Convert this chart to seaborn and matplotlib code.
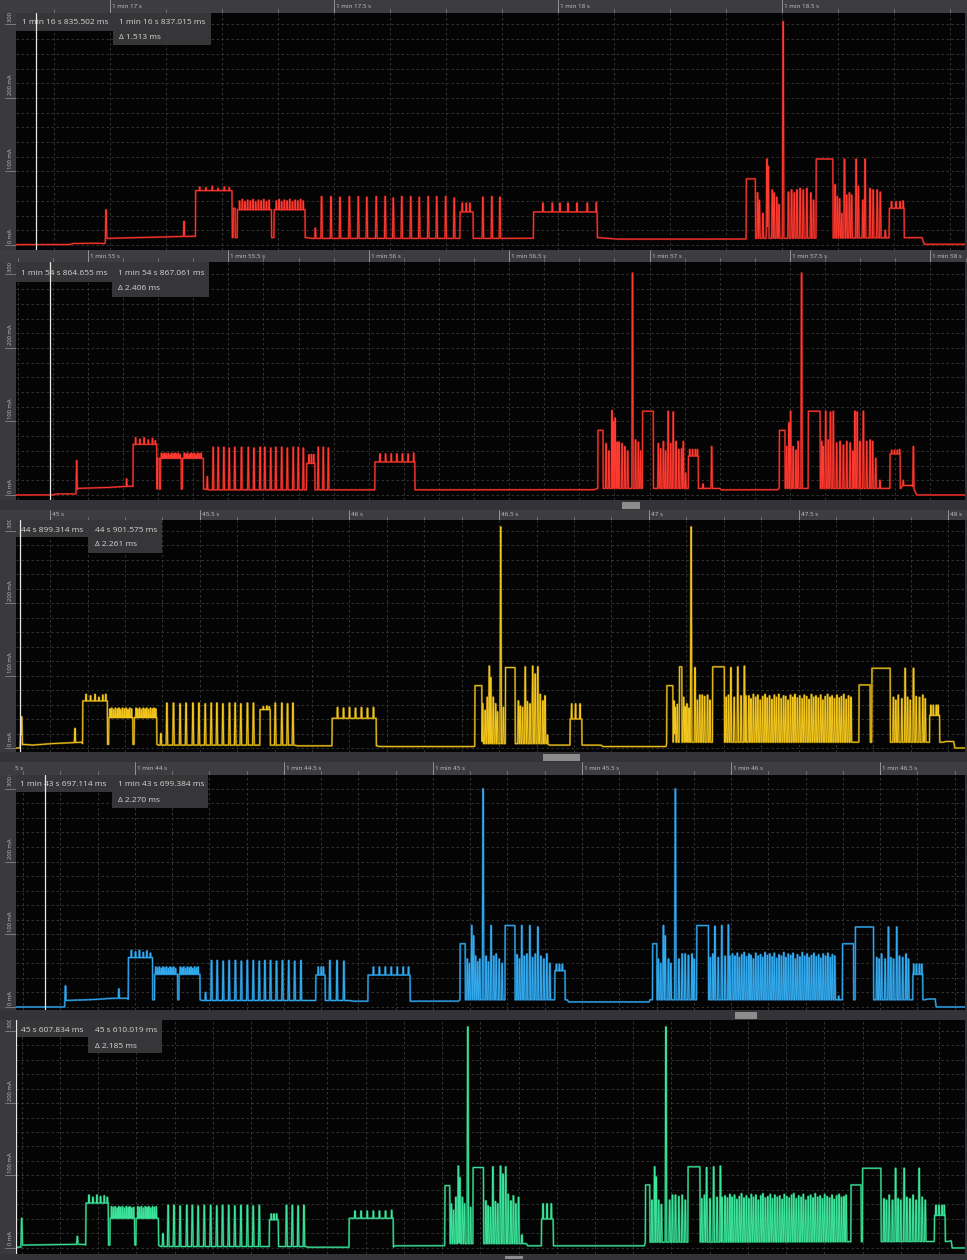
import numpy as np
import matplotlib
matplotlib.use("Agg")
import matplotlib.pyplot as plt
from matplotlib.patches import Rectangle
import seaborn as sns

# ---------------------------------------------------------------------------
# Current traces, one per capture. Time in ms from each capture's reference
# mark, current in mA. Each trace = idle/base level + flat blocks + pulses.
# ---------------------------------------------------------------------------

# capture 1 (red) -- reference mark 1 min 17 s
p1_base = [(-215, 0.5), (-90, 0.5), (-84, 2), (-40, 2.5), (-12, 2), (-8, 9), (60, 10), (120, 11),
           (188, 12), (200, 10), (440, 10), (450, 9), (900, 9), (1090, 10), (1130, 8), (1418, 8),
           (1422, 9), (1812, 10), (1817, 1), (1910, 1)]
p1_blocks = [(191, 272, 74), (275, 279, 50), (284, 360, 48), (366, 435, 48), (781, 810, 45),
             (945, 1087, 45), (1420, 1440, 90), (1576, 1613, 117), (1739, 1772, 50)]
p1_pulses = [(-9, 48), (165, 32),
             (200, 79), (214, 78), (228, 80), (241, 77), (255, 79), (266, 78),
             (289, 60), (295, 62), (301, 59), (307, 61), (313, 60), (319, 62), (325, 59), (331, 61),
             (337, 60), (343, 62), (349, 59), (355, 61), (371, 60), (377, 62), (383, 59), (389, 61),
             (395, 60), (401, 62), (407, 59), (413, 61), (419, 60), (425, 62), (431, 60),
             (458, 23), (472, 66), (493, 66), (513, 65), (534, 66), (554, 66), (573, 65), (594, 66),
             (614, 66), (632, 64), (651, 66), (671, 66), (690, 65), (710, 66), (729, 66), (749, 66),
             (768, 64), (786, 57), (795, 57), (803, 57), (832, 65), (852, 66), (870, 65),
             (966, 57), (987, 57), (1004, 57), (1022, 57), (1042, 57), (1065, 57), (1085, 58),
             (1445, 71), (1449, 61), (1457, 43), (1466, 117), (1469, 107), (1478, 75), (1482, 71),
             (1488, 65), (1493, 55), (1502, 304), (1514, 72), (1521, 75), (1527, 71), (1533, 75),
             (1540, 77), (1547, 75), (1555, 77), (1564, 71), (1570, 61),
             (1618, 82), (1623, 66), (1628, 63), (1633, 43), (1639, 117), (1644, 68), (1650, 71),
             (1655, 68), (1665, 117), (1670, 80), (1680, 61), (1685, 117), (1696, 77), (1703, 75),
             (1712, 75), (1719, 72), (1730, 20),
             (1744, 59), (1754, 59), (1763, 59), (1770, 60)]

# capture 2 (red) -- reference mark 1 min 55 s
p2_base = [(-260, 0), (-120, 0), (-115, 1.4), (-45, 1.5), (-41, 1.5), (-37, 9), (60, 10), (150, 12),
           (160, 12), (166, 8), (420, 8), (430, 7), (1800, 7), (1816, 9), (2250, 9), (2255, 7),
           (2455, 7), (2462, 9), (2895, 9), (2900, 13), (2935, 13), (2951, 0), (3130, 0)]
p2_blocks = [(161, 245, 69), (247, 254, 50), (259, 332, 50), (337, 411, 50), (779, 808, 43),
             (1022, 1164, 45), (1816, 1834, 88), (1975, 2013, 114), (2138, 2173, 53),
             (2462, 2482, 88), (2565, 2607, 114), (2856, 2892, 56)]
p2_pulses = [(-40, 47), (138, 22),
             (170, 78), (185, 76), (200, 78), (215, 75), (230, 77), (240, 74),
             (262, 57), (268, 56), (274, 57), (280, 56), (286, 57), (292, 55), (298, 57), (304, 56),
             (310, 57), (316, 56), (322, 57), (328, 55), (343, 57), (349, 56), (355, 57), (361, 55),
             (367, 57), (373, 56), (379, 57), (385, 55), (391, 57), (397, 56), (403, 57),
             (425, 25), (446, 65), (464, 65), (484, 65), (503, 64), (523, 65), (547, 65), (571, 65),
             (591, 64), (613, 65), (630, 65), (651, 64), (669, 65), (690, 65), (710, 64), (731, 65),
             (749, 65), (767, 64), (787, 55), (796, 55), (804, 55), (820, 65), (838, 65), (856, 64),
             (1040, 56), (1060, 56), (1080, 56), (1100, 56), (1120, 56), (1140, 56), (1160, 57),
             (1845, 70), (1855, 60), (1866, 115), (1871, 100), (1877, 105), (1884, 72), (1891, 72),
             (1902, 70), (1912, 66), (1922, 60), (1939, 302), (1950, 75), (1960, 72), (1968, 60),
             (2031, 70), (2039, 63), (2049, 73), (2057, 60), (2066, 114), (2075, 70), (2084, 113),
             (2094, 73), (2104, 62), (2114, 63), (2120, 73), (2128, 30),
             (2143, 62), (2153, 62), (2163, 62), (2170, 62), (2190, 15), (2221, 66),
             (2488, 66), (2496, 98), (2502, 114), (2511, 66), (2521, 61), (2529, 73), (2541, 302),
             (2613, 73), (2618, 66), (2627, 114), (2636, 75), (2644, 113), (2654, 114), (2666, 71),
             (2678, 73), (2690, 68), (2702, 73), (2714, 71), (2724, 60), (2731, 114), (2739, 113),
             (2749, 73), (2761, 114), (2773, 73), (2785, 75), (2794, 73), (2805, 50), (2820, 20),
             (2862, 61), (2872, 61), (2882, 61), (2890, 62), (2903, 20), (2939, 66)]

# capture 3 (yellow) -- reference mark 45 s
p3_base = [(-120, 0), (-99, 0), (-96, 2), (-92, 5), (-60, 4), (0, 6), (60, 7), (105, 8), (110, 5),
           (356, 5), (362, 4), (815, 4), (825, 3), (1092, 3), (1100, 2), (1417, 2), (1421, 6),
           (1662, 6), (1667, 4), (1840, 4), (1846, 2), (2057, 2), (2061, 8), (2985, 8), (2990, 9),
           (3018, 9), (3022, 0), (3060, 0)]
p3_blocks = [(109, 191, 65), (196, 276, 42), (281, 356, 42), (701, 735, 53), (942, 1089, 41),
             (1419, 1442, 86), (1521, 1553, 111), (1737, 1776, 40), (2060, 2080, 86),
             (2102, 2110, 112), (2213, 2252, 112), (2702, 2739, 87), (2745, 2806, 110),
             (2938, 2971, 45)]
p3_pulses = [(-98, 20), (-95, 43), (83, 27),
             (120, 74), (135, 72), (150, 74), (163, 70), (176, 73), (186, 74),
             (200, 54), (206, 55), (212, 53), (218, 55), (224, 54), (230, 55), (236, 53), (242, 55),
             (248, 54), (254, 55), (260, 53), (266, 55), (272, 54), (287, 55), (293, 54), (299, 55),
             (305, 53), (311, 55), (317, 54), (323, 55), (329, 53), (335, 55), (341, 54), (347, 55),
             (353, 54),
             (370, 20), (390, 62), (412, 62), (434, 61), (454, 62), (477, 62), (497, 62), (518, 61),
             (538, 62), (557, 62), (577, 61), (599, 62), (618, 62), (637, 61), (659, 62), (679, 62),
             (712, 57), (724, 58), (732, 57), (752, 62), (774, 62), (793, 61), (811, 62),
             (960, 56), (980, 55), (1000, 56), (1020, 55), (1040, 56), (1060, 55), (1080, 56),
             (1445, 61), (1453, 52), (1460, 70), (1467, 113), (1472, 97), (1480, 70), (1488, 61),
             (1494, 50), (1505, 305), (1514, 56), (1564, 65), (1570, 58), (1578, 56), (1587, 112),
             (1594, 64), (1603, 61), (1612, 113), (1620, 102), (1629, 112), (1637, 74), (1646, 65),
             (1653, 72), (1661, 18), (1742, 61), (1755, 61), (1770, 61),
             (2084, 65), (2088, 56), (2095, 60), (2116, 70), (2121, 57), (2127, 61), (2134, 55),
             (2141, 305), (2154, 111), (2162, 66), (2170, 73), (2178, 73), (2186, 71), (2196, 73),
             (2204, 66), (2258, 70), (2266, 73), (2274, 111), (2285, 70), (2297, 112), (2308, 72),
             (2319, 113), (2324, 72),
             (2817, 70), (2825, 66), (2833, 73), (2845, 68), (2856, 110), (2864, 70), (2873, 66),
             (2884, 110), (2893, 71), (2904, 70), (2915, 73), (2923, 68),
             (2942, 59), (2950, 59), (2960, 59), (2966, 59)]
p3_comb_ms = [2334, 2341, 2349, 2357, 2364, 2372, 2380, 2388, 2395, 2403, 2411, 2419, 2426, 2434,
              2442, 2450, 2457, 2465, 2473, 2481, 2488, 2496, 2504, 2512, 2519, 2527, 2535, 2543,
              2550, 2558, 2566, 2574, 2581, 2589, 2597, 2605, 2612, 2620, 2628, 2636, 2643, 2651,
              2659, 2667, 2675]
p3_comb_ma = [72, 68, 74, 70, 73, 66, 71, 74, 69, 72, 67, 73, 70, 74, 68, 72, 71, 66, 73, 70, 74,
              69, 72, 68, 73, 71, 67, 74, 70, 72, 69, 73, 66, 71, 74, 70, 72, 68, 73, 69, 71, 74,
              67, 72, 70]

# capture 4 (blue) -- reference mark 1 min 44 s
p4_base = [(-400, 0), (-236, 0), (-233, 9), (-150, 10), (-80, 12), (-25, 12), (-22, 10), (218, 10),
           (225, 9), (720, 9), (730, 8), (1085, 8), (1091, 10), (1450, 10), (1455, 7), (1725, 7),
           (1728, 10), (2650, 10), (2660, 11), (2685, 11), (2688, 0), (2790, 0)]
p4_blocks = [(-22, 59, 68), (66, 143, 45), (148, 218, 45), (607, 638, 44), (782, 923, 44),
             (1091, 1108, 87), (1242, 1275, 112), (1409, 1443, 50), (1737, 1751, 87),
             (1885, 1924, 112), (2374, 2411, 87), (2417, 2478, 110), (2610, 2643, 45)]
p4_pulses = [(-233, 29), (-54, 25),
             (-12, 78), (2, 76), (15, 78), (28, 75), (40, 77), (52, 74),
             (70, 55), (76, 54), (82, 55), (88, 53), (94, 55), (100, 54), (106, 55), (112, 53),
             (118, 55), (124, 54), (130, 55), (136, 53), (152, 55), (158, 54), (164, 55), (170, 53),
             (176, 55), (182, 54), (188, 55), (194, 53), (200, 55), (206, 54), (212, 55),
             (237, 20), (257, 64), (276, 64), (296, 63), (316, 64), (337, 64), (357, 63), (377, 64),
             (397, 64), (417, 63), (436, 64), (455, 64), (475, 63), (495, 64), (516, 64), (536, 63),
             (557, 64), (615, 55), (625, 55), (632, 55), (654, 64), (678, 64), (701, 63),
             (800, 55), (820, 55), (840, 55), (860, 55), (880, 55), (900, 55), (918, 55),
             (1115, 66), (1122, 60), (1130, 112), (1136, 98), (1143, 70), (1150, 62), (1157, 66),
             (1168, 300), (1178, 70), (1186, 62), (1195, 112), (1204, 70), (1212, 73), (1222, 66),
             (1232, 60), (1282, 72), (1290, 66), (1298, 112), (1306, 70), (1315, 73), (1325, 112),
             (1334, 68), (1343, 73), (1352, 110), (1362, 70), (1372, 66), (1382, 73), (1392, 60),
             (1414, 59), (1424, 59), (1434, 59),
             (1756, 66), (1764, 60), (1773, 112), (1779, 98), (1790, 66), (1798, 60), (1813, 300),
             (1825, 66), (1836, 73), (1846, 73), (1857, 71), (1869, 73), (1876, 66),
             (1930, 68), (1939, 73), (1946, 111), (1957, 68), (1969, 112), (1980, 70), (1991, 113),
             (1996, 70), (2361, 15),
             (2489, 68), (2497, 66), (2505, 73), (2517, 66), (2528, 110), (2536, 68), (2545, 66),
             (2556, 110), (2565, 70), (2576, 68), (2587, 73), (2595, 66),
             (2613, 59), (2622, 59), (2632, 59), (2640, 59)]
p4_comb_ms = [2005, 2013, 2021, 2028, 2036, 2044, 2052, 2060, 2067, 2075, 2083, 2091, 2099, 2106,
              2114, 2122, 2130, 2138, 2145, 2153, 2161, 2169, 2177, 2184, 2192, 2200, 2208, 2216,
              2223, 2231, 2239, 2247, 2255, 2262, 2270, 2278, 2286, 2294, 2301, 2309, 2317, 2325,
              2333, 2340, 2348]
p4_comb_ma = [73, 70, 74, 68, 72, 75, 69, 73, 71, 66, 74, 70, 72, 68, 75, 71, 73, 69, 74, 67, 72,
              70, 75, 68, 73, 71, 74, 66, 72, 69, 75, 70, 73, 68, 71, 74, 69, 72, 67, 73, 70, 74,
              68, 72, 70]

# capture 5 (green) -- reference mark 45.625 s
p5_base = [(-25, 1), (-3, 1), (1, 4), (150, 5), (205, 5), (210, 4), (447, 4), (455, 2), (930, 2),
           (935, 1), (1215, 1), (1220, 3), (1382, 3), (1386, 6), (1650, 6), (1655, 3), (2036, 3),
           (2040, 8), (3030, 9), (3040, 10), (3043, 0), (3090, 0)]
p5_blocks = [(210, 283, 62), (289, 369, 41), (374, 447, 41), (810, 839, 39), (1071, 1215, 41),
             (1384, 1400, 86), (1476, 1510, 111), (1700, 1738, 40), (2040, 2054, 87),
             (2179, 2218, 112), (2712, 2745, 87), (2750, 2810, 110), (2985, 3020, 45)]
p5_pulses = [(0, 41), (182, 16),
             (220, 73), (233, 70), (246, 73), (258, 71), (270, 72), (280, 70),
             (294, 57), (300, 56), (306, 57), (312, 55), (318, 57), (324, 56), (330, 57), (336, 55),
             (342, 57), (348, 56), (354, 57), (360, 55), (366, 56), (380, 57), (386, 56), (392, 57),
             (398, 55), (404, 57), (410, 56), (416, 57), (422, 55), (428, 57), (434, 56), (440, 57),
             (462, 20), (479, 59), (498, 59), (518, 58), (540, 59), (558, 59), (577, 58), (597, 59),
             (618, 59), (638, 58), (657, 59), (677, 59), (697, 58), (717, 59), (738, 59), (757, 58),
             (777, 59), (816, 47), (825, 47), (834, 47), (866, 59), (885, 59), (904, 58), (923, 59),
             (1090, 51), (1110, 51), (1130, 51), (1150, 51), (1170, 51), (1190, 51), (1210, 52),
             (1405, 61), (1412, 52), (1420, 70), (1428, 113), (1433, 97), (1441, 70), (1448, 61),
             (1459, 305), (1468, 56), (1518, 65), (1525, 58), (1533, 56), (1541, 112), (1549, 64),
             (1557, 61), (1566, 113), (1574, 102), (1583, 112), (1591, 74), (1600, 65), (1608, 72),
             (1616, 61), (1625, 70), (1636, 18), (1705, 61), (1718, 61), (1732, 61),
             (2061, 66), (2070, 112), (2075, 98), (2083, 66), (2092, 60), (2107, 305), (2119, 66),
             (2128, 73), (2138, 73), (2149, 71), (2160, 73), (2170, 66), (2224, 68), (2233, 73),
             (2240, 111), (2251, 68), (2263, 112), (2274, 70), (2285, 113), (2290, 70),
             (2820, 68), (2828, 66), (2837, 73), (2848, 66), (2858, 110), (2866, 68), (2875, 66),
             (2886, 110), (2895, 70), (2905, 68), (2915, 73), (2925, 66), (2935, 110), (2945, 70),
             (2955, 66), (2990, 59), (3000, 59), (3010, 59), (3017, 59)]
p5_comb_ms = [2300, 2308, 2316, 2323, 2331, 2339, 2347, 2354, 2362, 2370, 2378, 2386, 2393, 2401,
              2409, 2417, 2424, 2432, 2440, 2448, 2455, 2463, 2471, 2479, 2487, 2494, 2502, 2510,
              2518, 2525, 2533, 2541, 2549, 2556, 2564, 2572, 2580, 2588, 2595, 2603, 2611, 2619,
              2626, 2634, 2642, 2650, 2657, 2665, 2673, 2681, 2689, 2696]
p5_comb_ma = [72, 69, 74, 70, 73, 67, 71, 75, 69, 72, 68, 74, 70, 73, 66, 72, 75, 69, 71, 74, 68,
              73, 70, 72, 67, 74, 71, 69, 73, 75, 68, 72, 70, 74, 66, 71, 73, 69, 75, 70, 72, 68,
              74, 71, 69, 73, 67, 72, 74, 70, 71, 73]

# visible windows (ms) and current ranges (mA)
spans = [(-210, 1908), (-256, 3123), (-114, 3056), (-399, 2785), (-18.6, 3085)]
ranges = [(-6.8, 316.3), (-6.8, 317.0), (-5.5, 314.5), (-4.1, 319.0), (-8.3, 314.5)]

# time-axis ticks (ms from reference mark) and their labels
tick_ms = [[0, 500, 1000, 1500],
           [0, 500, 1000, 1500, 2000, 2500, 3000],
           [0, 500, 1000, 1500, 2000, 2500, 3000],
           [-500, 0, 500, 1000, 1500, 2000, 2500],
           []]
tick_labels = [["1 min 17 s", "1 min 17.5 s", "1 min 18 s", "1 min 18.5 s"],
               ["1 min 55 s", "1 min 55.5 s", "1 min 56 s", "1 min 56.5 s", "1 min 57 s",
                "1 min 57.5 s", "1 min 58 s"],
               ["45 s", "45.5 s", "46 s", "46.5 s", "47 s", "47.5 s", "48 s"],
               ["1 min 43.5 s", "1 min 44 s", "1 min 44.5 s", "1 min 45 s", "1 min 45.5 s",
                "1 min 46 s", "1 min 46.5 s"],
               []]

# measurement cursors
cursor_ms = [-164.498, -135.345, -100.686, -302.886, -17.166]
cursor_a = ["1 min 16 s 835.502 ms", "1 min 54 s 864.655 ms", "44 s 899.314 ms",
            "1 min 43 s 697.114 ms", "45 s 607.834 ms"]
cursor_b = ["1 min 16 s 837.015 ms", "1 min 54 s 867.061 ms", "44 s 901.575 ms",
            "1 min 43 s 699.384 ms", "45 s 610.019 ms"]
cursor_delta = ["Δ 1.513 ms", "Δ 2.406 ms", "Δ 2.261 ms", "Δ 2.270 ms", "Δ 2.185 ms"]

axis_values = [0, 100, 200, 300]
axis_labels = ["0 mA", "100 mA", "200 mA", "300 mA"]

# ---------------------------------------------------------------------------
# style / layout
# ---------------------------------------------------------------------------
W, H = 967, 1260
FIG_BG = "#303034"
PLOT_BG = "#040404"
BAND_BG = "#3c3c41"
GUTTER_BG = "#3a3a3e"
SCROLL_BG = "#343438"
GRID = "#3a3a3a"
TEXT = "#d4d4d4"
BOX = "#3a3a3d"

trace_colors = [("#ff3a30", "#7a1512"), ("#ff3a30", "#7a1512"), ("#f2c51c", "#6f5a0c"),
                ("#33aaee", "#17557e"), ("#3ce39a", "#1a7048")]
pulse_width = [3.5, 5.0, 5.0, 5.0, 5.0]

# pixel layout of every capture strip
layout = [
    dict(plot=(16, 12.5, 965, 250), band=(0, 0, W, 12.5), scroll=None,
         box_a=(16, 113, 30.5), box_b=(113, 211, 45), text_x=(22, 119), text_y=(22.5, 37.5)),
    dict(plot=(16, 262, 965, 500), band=(0, 250, W, 262), scroll=((500, 510), (622, 640)),
         box_a=(15, 112, 282), box_b=(112, 209, 297), text_x=(21, 118), text_y=(273.5, 288.5)),
    dict(plot=(16, 520, 965, 752), band=(0, 510, W, 520), scroll=((752, 762), (543, 580)),
         box_a=(16, 88, 537), box_b=(88, 162, 553), text_x=(21, 95), text_y=(530, 545)),
    dict(plot=(16, 775, 965, 1010), band=(0, 762, W, 775), scroll=((1010, 1020), (735, 757)),
         box_a=(15, 112, 792), box_b=(112, 208, 808), text_x=(20, 118), text_y=(785, 800)),
    dict(plot=(16, 1020, 965, 1254), band=None, scroll=((1254, 1260), (505, 523)),
         box_a=(16, 88, 1037), box_b=(88, 162, 1053), text_x=(21, 95), text_y=(1030.5, 1046)),
]
BAND_LEFT = 15  # tick labels of the time band are clipped at this pixel column

sns.set_theme(style="dark")
plt.rcParams["font.family"] = ["Open Sans", "DejaVu Sans"]

fig = plt.figure(figsize=(W / 100, H / 100), dpi=100, facecolor=FIG_BG)


def frac(x0, y0, x1, y1):
    return [x0 / W, 1 - y1 / H, (x1 - x0) / W, (y1 - y0) / H]


def fx(x):
    return x / W


def fy(y):
    return 1 - y / H


def build_trace(span, base, blocks, pulses, comb_ms, comb_ma, width, step=0.25):
    t = np.arange(span[0], span[1], step)
    bt, bv = zip(*base)
    y = np.interp(t, bt, bv)
    for a, b, v in blocks:
        y = np.maximum(y, np.interp(t, [a - 0.6, a, b, b + 0.6], [0, v, v, 0], left=0, right=0))
    peaks = list(pulses) + list(zip(comb_ms, comb_ma))
    h = width / 2
    for c, v in peaks:
        y = np.maximum(y, np.interp(t, [c - h, c - h / 3, c + h / 3, c + h], [0, v, v, 0],
                                    left=0, right=0))
    return t, y


def clean(ax):
    ax.set_xticks([])
    ax.set_yticks([])
    ax.set_xlabel("")
    ax.set_ylabel("")
    for s in ax.spines.values():
        s.set_visible(False)


traces = [(p1_base, p1_blocks, p1_pulses, [], []),
          (p2_base, p2_blocks, p2_pulses, [], []),
          (p3_base, p3_blocks, p3_pulses, p3_comb_ms, p3_comb_ma),
          (p4_base, p4_blocks, p4_pulses, p4_comb_ms, p4_comb_ma),
          (p5_base, p5_blocks, p5_pulses, p5_comb_ms, p5_comb_ma)]

for i, lay in enumerate(layout):
    x0, y0, x1, y1 = lay["plot"]
    t0, t1 = spans[i]
    lo, hi = ranges[i]
    ms_px = (t1 - t0) / (x1 - x0)
    px_ma = (y1 - y0) / (hi - lo)

    # ---- plot area ----
    ax = fig.add_axes(frac(x0, y0, x1, y1))
    ax.set_facecolor(PLOT_BG)
    for g in np.arange(np.ceil(t0 / 125) * 125, t1, 125):
        ax.axvline(g, color=GRID, lw=0.6, ls=(0, (3, 3)), zorder=1)
    for m in range(0, 301, 20):
        ax.axhline(m, color=GRID, lw=0.6, ls=(0, (3, 3)), zorder=1)

    base, blocks, pulses, cms, cma = traces[i]
    t, y = build_trace(spans[i], base, blocks, pulses, cms, cma, pulse_width[i])
    bright, dark = trace_colors[i]
    sns.lineplot(x=t, y=y, ax=ax, color=dark, linewidth=1.5, estimator=None, sort=False,
                 errorbar=None, zorder=2)
    sns.lineplot(x=t, y=y, ax=ax, color=bright, linewidth=0.7, estimator=None, sort=False,
                 errorbar=None, zorder=3)
    ax.set_xlim(t0, t1)
    ax.set_ylim(lo, hi)
    clean(ax)

    # cursor readout boxes
    ax_a0, ax_a1, ay_a = lay["box_a"]
    bx0, bx1, by_b = lay["box_b"]
    ax.add_patch(Rectangle((fx(ax_a0), fy(ay_a)), (ax_a1 - ax_a0) / W, (ay_a - y0) / H,
                           transform=fig.transFigure, facecolor=BOX, edgecolor="none",
                           alpha=0.93, zorder=5, clip_on=False))
    ax.add_patch(Rectangle((fx(bx0), fy(by_b)), (bx1 - bx0) / W, (by_b - y0) / H,
                           transform=fig.transFigure, facecolor=BOX, edgecolor="none",
                           alpha=0.93, zorder=5, clip_on=False))
    ax.axvline(cursor_ms[i], color="#e8e8e8", lw=0.9, zorder=6)
    tx_a, tx_b = lay["text_x"]
    ty1, ty2 = lay["text_y"]
    ax.text(fx(tx_a), fy(ty1), cursor_a[i], transform=fig.transFigure, color=TEXT,
            fontsize=6, va="center", ha="left", zorder=7)
    ax.text(fx(tx_b), fy(ty1), cursor_b[i], transform=fig.transFigure, color=TEXT,
            fontsize=6, va="center", ha="left", zorder=7)
    ax.text(fx(tx_b), fy(ty2), cursor_delta[i], transform=fig.transFigure, color=TEXT,
            fontsize=6, va="center", ha="left", zorder=7)

    # ---- current axis gutter ----
    gx = fig.add_axes(frac(0, y0, x0, y1))
    gx.set_facecolor(GUTTER_BG)
    gx.set_xlim(0, x0)
    gx.set_ylim(lo, hi)
    for v, lab in zip(axis_values, axis_labels):
        gx.plot([5, x0], [v, v], color="#85858a", lw=0.6, clip_on=True)
        gx.text(10, v + 2.5 / px_ma, lab, rotation=90, ha="center", va="bottom",
                fontsize=4.2, color="#bcbcbc", clip_on=True)
    clean(gx)

    # ---- time axis band ----
    if lay["band"] is not None:
        bx0_, by0_, bx1_, by1_ = lay["band"]
        fig.add_artist(Rectangle((fx(bx0_), fy(by1_)), (BAND_LEFT - bx0_) / W, (by1_ - by0_) / H,
                                 transform=fig.transFigure, facecolor=BAND_BG,
                                 edgecolor="none", zorder=0))
        bax = fig.add_axes(frac(BAND_LEFT, by0_, bx1_, by1_))
        bax.set_facecolor(BAND_BG)
        bt0 = t0 - (x0 - BAND_LEFT) * ms_px
        bt1 = t1 + (bx1_ - x1) * ms_px
        bax.set_xlim(bt0, bt1)
        bax.set_ylim(0, 1)
        for g in np.arange(np.ceil(bt0 / 125) * 125, bt1, 125):
            bax.plot([g, g], [0, 0.3], color="#77777c", lw=0.6)
        for tk, lab in zip(tick_ms[i], tick_labels[i]):
            bax.plot([tk, tk], [0, 1], color="#a0a0a4", lw=0.6)
            bax.text(tk + 2 * ms_px, 0.5, lab, fontsize=4.5, color="#c6c6c6",
                     va="center", ha="left", clip_on=True)
        clean(bax)

    # ---- scroll strip ----
    if lay["scroll"] is not None:
        (sy0, sy1), (tx0, tx1) = lay["scroll"]
        fig.add_artist(Rectangle((0, fy(sy1)), 1, (sy1 - sy0) / H, transform=fig.transFigure,
                                 facecolor=SCROLL_BG, edgecolor="none", zorder=0))
        fig.add_artist(Rectangle((fx(tx0), fy(sy1 - 1.5)), (tx1 - tx0) / W, (sy1 - sy0 - 3) / H,
                                 transform=fig.transFigure, facecolor="#8c8c8c",
                                 edgecolor="none", zorder=1))

fig.savefig("out.png", dpi=100, facecolor=FIG_BG)
